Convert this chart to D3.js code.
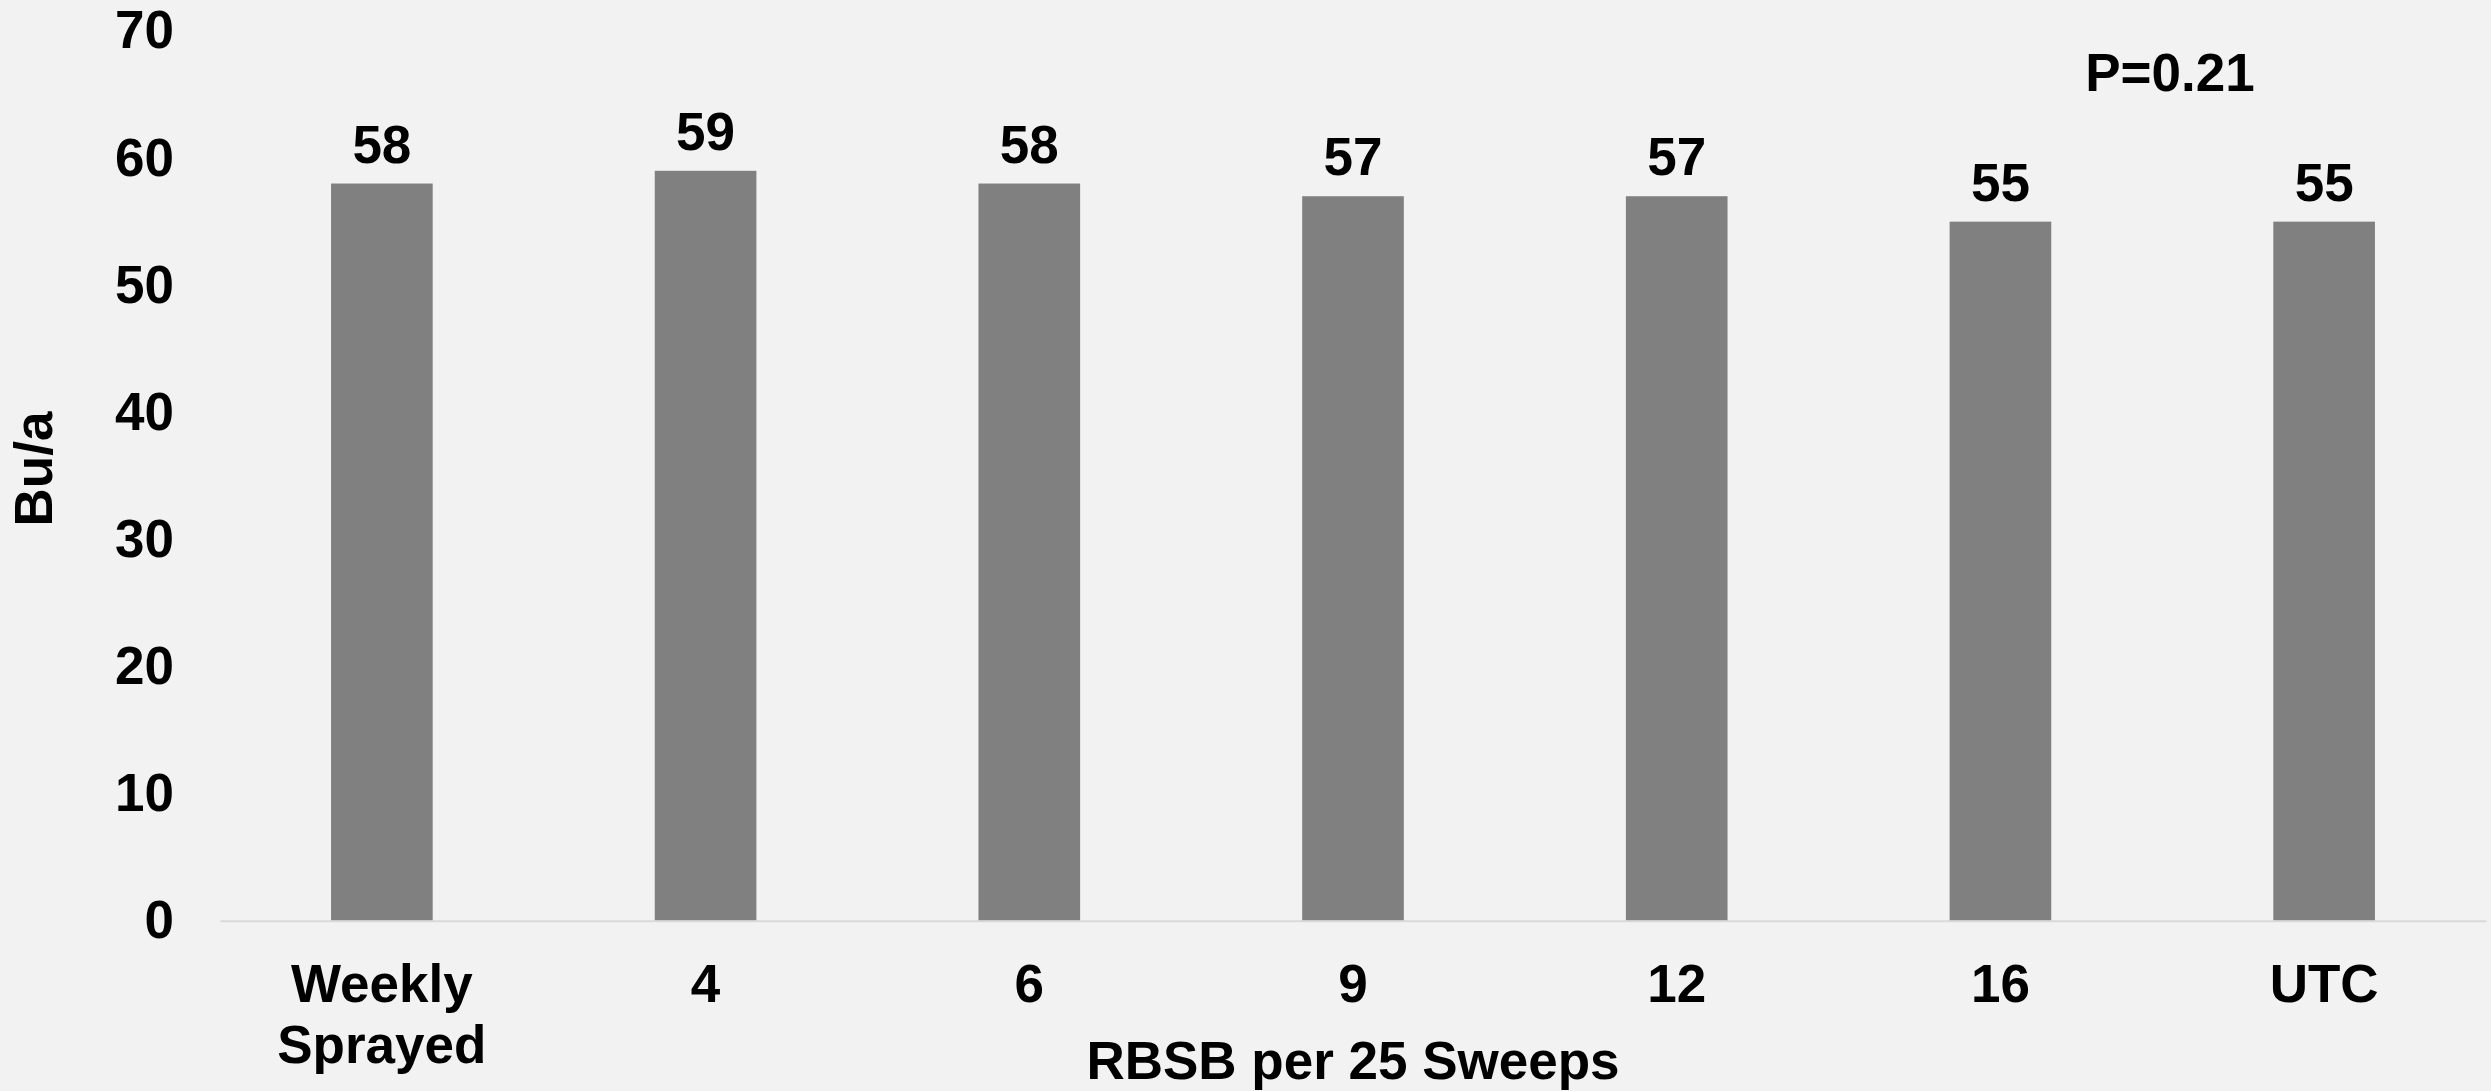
<!DOCTYPE html>
<html><head><meta charset="utf-8">
<script src="https://cdn.jsdelivr.net/npm/d3@7"></script>
<style>
html,body{margin:0;padding:0;background:#f2f2f2;}
svg{display:block;}
text{font-family:"Liberation Sans",Arial,sans-serif;font-weight:bold;fill:#000;}
</style></head><body>
<svg id="chart" width="2491" height="1091"></svg>
<script>
const categories = [["Weekly","Sprayed"],["4"],["6"],["9"],["12"],["16"],["UTC"]];
const values = [58, 59, 58, 57, 57, 55, 55];
const yTicks = [0, 10, 20, 30, 40, 50, 60, 70];
const yTitle = "Bu/a";
const xTitle = "RBSB per 25 Sweeps";
const pLabel = "P=0.21";

(function () {
const W = 2491, H = 1091;
const mLeft = 220, mRight = 2486, mTop = 31, mBottom = 920.7;
const svg = d3.select("#chart");
svg.append("rect").attr("width", W).attr("height", H).attr("fill", "#f2f2f2");

const keys = categories.map(c => c.join(" "));
const x = d3.scaleBand().domain(keys).range([mLeft, mRight]).paddingInner(0.686).paddingOuter(0.343);
const y = d3.scaleLinear().domain([0, 70]).range([mBottom, mTop]);

// bars
svg.append("g").selectAll("rect").data(values).join("rect")
  .attr("x", (d, i) => x(keys[i]))
  .attr("y", d => y(d))
  .attr("width", x.bandwidth())
  .attr("height", d => y(0) - y(d))
  .attr("fill", "#808080");

// baseline axis
const xAxis = d3.axisBottom(x).tickSize(0).tickFormat("");
const gx = svg.append("g").attr("transform", `translate(0,${mBottom})`).call(xAxis);
gx.select(".domain").attr("stroke", "#d9d9d9").attr("stroke-width", 2);

// y axis labels
const yAxis = d3.axisLeft(y).tickValues(yTicks).tickSize(0).tickPadding(46);
const gy = svg.append("g").attr("transform", `translate(${mLeft},0)`).call(yAxis);
gy.select(".domain").remove();
gy.selectAll("text").attr("font-size", 53).attr("font-family", "Liberation Sans, Arial, sans-serif")
  .attr("font-weight", "bold").attr("fill", "#000");

// category labels
const catG = svg.append("g");
categories.forEach((lines, i) => {
  const cx = x(keys[i]) + x.bandwidth() / 2;
  const t = catG.append("text").attr("text-anchor", "middle").attr("font-size", 53)
    .attr("x", cx).attr("y", 1002);
  lines.forEach((ln, j) => {
    t.append("tspan").attr("x", cx).attr("dy", j === 0 ? 0 : 61).text(ln);
  });
});

// value labels
svg.append("g").selectAll("text").data(values).join("text")
  .attr("text-anchor", "middle").attr("font-size", 53)
  .attr("x", (d, i) => x(keys[i]) + x.bandwidth() / 2)
  .attr("y", d => y(d) - 21)
  .text(d => d);

// titles
svg.append("text").attr("text-anchor", "middle").attr("font-size", 53)
  .attr("x", (mLeft + mRight) / 2).attr("y", 1079).text(xTitle);
svg.append("text").attr("text-anchor", "middle").attr("font-size", 53)
  .attr("transform", "translate(52,469) rotate(-90)").text(yTitle);
svg.append("text").attr("text-anchor", "middle").attr("font-size", 53)
  .attr("x", 2170).attr("y", 91).text(pLabel);
})();
</script>
</body></html>
